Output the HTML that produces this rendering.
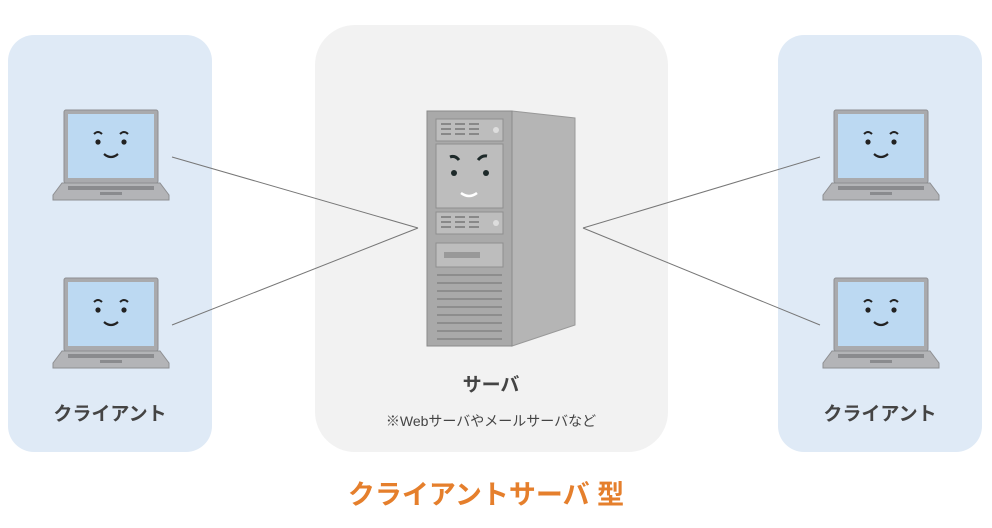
<!DOCTYPE html>
<html><head><meta charset="utf-8"><style>
body{margin:0;background:#fff;width:992px;height:523px;overflow:hidden;font-family:"Liberation Sans","Noto Sans CJK JP",sans-serif}
</style></head><body>
<svg width="992" height="523" viewBox="0 0 992 523" xmlns="http://www.w3.org/2000/svg">
<defs>
<g id="lap">
  <rect x="0" y="0" width="94" height="73" rx="2" fill="#a9aaad" stroke="#8e8f92"/>
  <rect x="4" y="4" width="86" height="64" fill="#bcd9f2"/>
  <path d="M30 24 q4 -4 8 0 M56 24 q4 -4 8 0" stroke="#222" stroke-width="2" fill="none"/>
  <circle cx="34" cy="32" r="2.6" fill="#222"/><circle cx="60" cy="32" r="2.6" fill="#222"/>
  <path d="M40 44 q7 6 14 0" stroke="#222" stroke-width="2.2" fill="none"/>
  <path d="M-2 73 h98 l9 12 v5 h-116 v-5z" fill="#b3b4b7" stroke="#8e8f92"/>
  <rect x="4" y="76" width="86" height="4" fill="#8a8b8e"/>
  <rect x="36" y="82" width="22" height="3" fill="#8a8b8e"/>
</g>
</defs>
<rect x="8" y="35" width="204" height="417" rx="26" fill="#dfeaf6"/>
<rect x="315" y="25" width="353" height="427" rx="40" fill="#f2f2f2"/>
<rect x="778" y="35" width="204" height="417" rx="26" fill="#dfeaf6"/>
<g stroke="#777" stroke-width="1">
<line x1="172" y1="157" x2="418" y2="228"/><line x1="172" y1="325" x2="418" y2="228"/>
<line x1="583" y1="228" x2="820" y2="157"/><line x1="583" y1="228" x2="820" y2="325"/>
</g>
<use href="#lap" x="64" y="110"/><use href="#lap" x="64" y="278"/>
<use href="#lap" x="834" y="110"/><use href="#lap" x="834" y="278"/>
<polygon points="512,111 575,118 575,325 512,346" fill="#b5b5b5" stroke="#999"/>
<rect x="427" y="111" width="85" height="235" fill="#a9a9a9" stroke="#8a8a8a"/>
<rect x="436" y="119" width="67" height="22" fill="#bdbdbd" stroke="#8f8f8f"/>
<rect x="436" y="144" width="67" height="64" fill="#bdbdbd" stroke="#8f8f8f"/>
<rect x="436" y="212" width="67" height="22" fill="#bdbdbd" stroke="#8f8f8f"/>
<rect x="436" y="243" width="67" height="24" fill="#bdbdbd" stroke="#8f8f8f"/>
<g stroke="#888" stroke-width="2">
<path d="M441 124h10M455 124h10M469 124h10M441 129h10M455 129h10M469 129h10M441 134h10M455 134h10M469 134h10"/>
<path d="M441 217h10M455 217h10M469 217h10M441 222h10M455 222h10M469 222h10M441 227h10M455 227h10M469 227h10"/>
</g>
<circle cx="496" cy="130" r="3" fill="#ddd"/><circle cx="496" cy="223" r="3" fill="#ddd"/>
<rect x="444" y="252" width="36" height="6" fill="#999"/>
<g stroke="#8d8d8d" stroke-width="2"><path d="M437 275h65M437 283h65M437 291h65M437 299h65M437 307h65M437 315h65M437 323h65M437 331h65M437 339h65"/></g>
<path d="M450 157 q5 -2 9 3 M478 160 q4 -5 9 -4" stroke="#1e2a2a" stroke-width="3" fill="none"/>
<circle cx="454" cy="173" r="3" fill="#1e2a2a"/><circle cx="486" cy="173" r="3" fill="#1e2a2a"/>
<path d="M461 193 q8 6 16 0" stroke="#fff" stroke-width="2.5" fill="none"/>
<g font-family="Liberation Sans,Noto Sans CJK JP,sans-serif" fill="#444" text-anchor="middle">
<text x="110" y="420" font-size="19" font-weight="bold">クライアント</text>
<text x="880" y="420" font-size="19" font-weight="bold">クライアント</text>
<text x="491" y="391" font-size="19" font-weight="bold">サーバ</text>
<text x="491" y="426" font-size="14">※Webサーバやメールサーバなど</text>
<text x="486" y="504" font-size="27" font-weight="bold" fill="#e57f2c">クライアントサーバ 型</text>
</g>
</svg>
</body></html>
